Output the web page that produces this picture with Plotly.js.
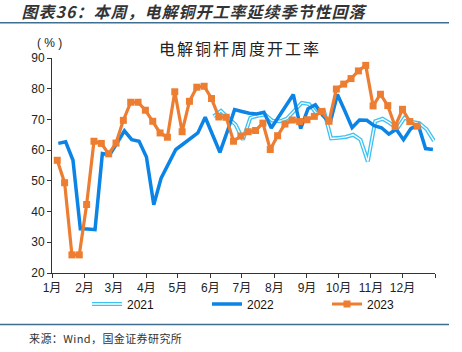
<!DOCTYPE html>
<html>
<head>
<meta charset="utf-8">
<script src="https://cdn.plot.ly/plotly-3.0.1.min.js"></script>
<style>
html,body{margin:0;padding:0;background:#fff;}
.annotation[data-index="0"] .annotation-text{letter-spacing:1px;}
.annotation[data-index="1"] .annotation-text{letter-spacing:2px;}
.annotation[data-index="3"] .annotation-text{letter-spacing:0.4px;}
</style>
</head>
<body>
<div id="chart" style="width:462px;height:352px;"></div>
<script>
// ---- data ----
const monthTicks = ['2023-01-01','2023-02-01','2023-03-01','2023-04-01','2023-05-01','2023-06-01','2023-07-01','2023-08-01','2023-09-01','2023-10-01','2023-11-01','2023-12-01','2024-01-01'];
const monthLabels = ['1月','2月','3月','4月','5月','6月','7月','8月','9月','10月','11月','12月',''];

const weeks2021 = ['06-04','06-11','06-18','06-25','07-02','07-09','07-16','07-23','07-30','08-06','08-13','08-20','08-27','09-03','09-10','09-17','09-24','10-01','10-08','10-15','10-22','10-29','11-05','11-12','11-19','11-26','12-03','12-10','12-17','12-24','12-31'];
const rate2021 = [71.0,72.8,70.5,68.3,63.4,70.5,71.2,71.6,69.6,69.4,70.3,73.0,75.4,75.0,72.0,73.0,63.8,64.0,64.3,65.0,63.4,56.3,69.4,70.2,68.8,67.0,70.6,69.2,68.8,66.8,63.0];

const weeks2022 = ['01-07','01-14','01-21','01-28','02-04','02-11','02-18','02-25','03-04','03-11','03-18','03-25','04-01','04-08','04-15','04-22','04-29','05-06','05-13','05-20','05-27','06-03','06-10','06-17','06-24','07-01','07-08','07-15','07-22','07-29','08-05','08-12','08-19','08-26','09-02','09-09','09-16','09-23','09-30','10-07','10-14','10-21','10-28','11-04','11-11','11-18','11-25','12-02','12-09','12-16','12-23','12-30'];
const rate2022 = [62.2,62.7,56.7,34.4,34.3,34.1,58.9,58.5,62.3,66.3,63.4,62.9,57.8,42.2,50.9,55.8,60.2,62.0,63.7,65.6,70.7,65.0,59.3,66.0,73.2,72.6,72.0,71.8,72.3,67.2,70.8,74.5,78.1,67.0,73.5,74.8,71.3,68.8,78.1,72.8,67.3,69.8,69.7,68.0,67.3,65.2,66.8,63.4,67.0,68.3,60.5,60.2];

const weeks2023 = ['01-06','01-13','01-20','01-27','02-03','02-10','02-17','02-24','03-03','03-10','03-17','03-24','03-31','04-07','04-14','04-21','04-28','05-05','05-12','05-19','05-26','06-02','06-09','06-16','06-23','06-30','07-07','07-14','07-21','07-28','08-04','08-11','08-18','08-25','09-01','09-08','09-15','09-22','09-29','10-06','10-13','10-20','10-27','11-03','11-10','11-17','11-24','12-01','12-08','12-15'];
const rate2023 = [56.7,49.4,25.9,25.9,42.3,62.9,62.2,58.8,62.3,69.7,75.6,75.6,73.0,69.4,65.6,64.2,79.0,66.0,75.9,80.5,80.8,76.8,70.8,70.7,62.9,64.6,66.0,66.4,68.8,60.2,64.7,68.5,69.8,69.3,69.9,71.0,72.6,69.4,79.9,81.5,83.3,85.8,87.6,74.4,78.2,74.5,67.7,73.3,69.3,67.8];

const seriesNames = ['2021','2022','2023'];

// ---- layout helpers ----
const W = 462, H = 352;
const M = {l:52, r:27, t:58, b:79};
const PW = W - M.l - M.r, PH = H - M.t - M.b;
const px = v => (v - M.l) / PW;
const py = v => (H - M.b - v) / PH;
const toDate = arr => arr.map(d => '2023-' + d);

const cLight = '#3DC2F2', cBlue = '#0B84E5', cOrange = '#ED7D31';
const latin = 'Liberation Sans, Arial, "Noto Sans CJK SC", sans-serif';
const cjk = '"Noto Sans CJK SC", "Noto Sans CJK JP", sans-serif';

const traces = [
  {x: toDate(weeks2021), y: rate2021, name: seriesNames[0], type: 'scatter', mode: 'lines',
   line: {color: cLight, width: 4}, legend: 'legend'},
  {x: toDate(weeks2021), y: rate2021, name: seriesNames[0], type: 'scatter', mode: 'lines',
   line: {color: '#ffffff', width: 1.3}, legend: 'legend2', hoverinfo: 'skip'},
  {x: toDate(weeks2022), y: rate2022, name: seriesNames[1], type: 'scatter', mode: 'lines',
   line: {color: cBlue, width: 3.5}, legend: 'legend'},
  {x: toDate(weeks2023), y: rate2023, name: seriesNames[2], type: 'scatter', mode: 'lines+markers',
   line: {color: cOrange, width: 3.2}, marker: {symbol: 'square', size: 7, color: cOrange},
   legend: 'legend'}
];

const legendBase = {
  orientation: 'h', xref: 'container', yref: 'container',
  x: 87 / W, y: 1 - 304 / H, xanchor: 'left', yanchor: 'middle',
  entrywidth: 75, entrywidthmode: 'pixels', bgcolor: 'rgba(0,0,0,0)',
  borderwidth: 0, traceorder: 'normal', tracegroupgap: 0
};

const layout = {
  width: W, height: H, margin: M,
  paper_bgcolor: '#fff', plot_bgcolor: '#fff',
  font: {family: latin, size: 12, color: '#222'},
  showlegend: true,
  legend: Object.assign({}, legendBase, {font: {family: latin, size: 12, color: '#111'}}),
  legend2: Object.assign({}, legendBase, {font: {family: latin, size: 12, color: 'rgba(0,0,0,0)'}}),
  xaxis: {
    type: 'date', range: ['2023-01-01', '2024-01-01'],
    tickmode: 'array', tickvals: monthTicks, ticktext: monthLabels,
    showgrid: false, zeroline: false, showline: true, linecolor: '#333', linewidth: 1,
    ticks: 'outside', ticklen: 4, tickcolor: '#333',
    tickfont: {family: latin, size: 12, color: '#222'}
  },
  yaxis: {
    range: [20, 90], dtick: 10, tick0: 20,
    showgrid: false, zeroline: false, showline: true, linecolor: '#333', linewidth: 1,
    ticks: 'outside', ticklen: 4, tickcolor: '#333',
    tickfont: {family: latin, size: 12, color: '#222'}
  },
  shapes: [
    {type: 'line', xref: 'paper', yref: 'paper', x0: px(0), x1: px(449), y0: py(22.7), y1: py(22.7),
     line: {color: '#3F6E90', width: 1.5}},
    {type: 'line', xref: 'paper', yref: 'paper', x0: px(0), x1: px(449), y0: py(324.5), y1: py(324.5),
     line: {color: '#3F6E90', width: 1.5}}
  ],
  annotations: [
    {text: '<b><i>图表36：本周，电解铜开工率延续季节性回落</i></b>', xref: 'paper', yref: 'paper',
     x: px(30), y: py(11), xanchor: 'left', yanchor: 'middle', showarrow: false,
     font: {family: cjk, size: 16, color: '#333'}},
    {text: '电解铜杆周度开工率', xref: 'paper', yref: 'paper',
     x: px(240), y: py(48), xanchor: 'center', yanchor: 'middle', showarrow: false,
     font: {family: cjk, size: 16, color: '#222'}},
    {text: '( % )', xref: 'paper', yref: 'paper',
     x: px(49), y: py(43), xanchor: 'center', yanchor: 'middle', showarrow: false,
     font: {family: latin, size: 12, color: '#222'}},
    {text: '来源：Wind，国金证券研究所', xref: 'paper', yref: 'paper',
     x: px(30), y: py(338), xanchor: 'left', yanchor: 'middle', showarrow: false,
     font: {family: cjk, size: 11, color: '#333'}}
  ]
};

Plotly.newPlot('chart', traces, layout, {staticPlot: true, displayModeBar: false});
</script>
</body>
</html>
